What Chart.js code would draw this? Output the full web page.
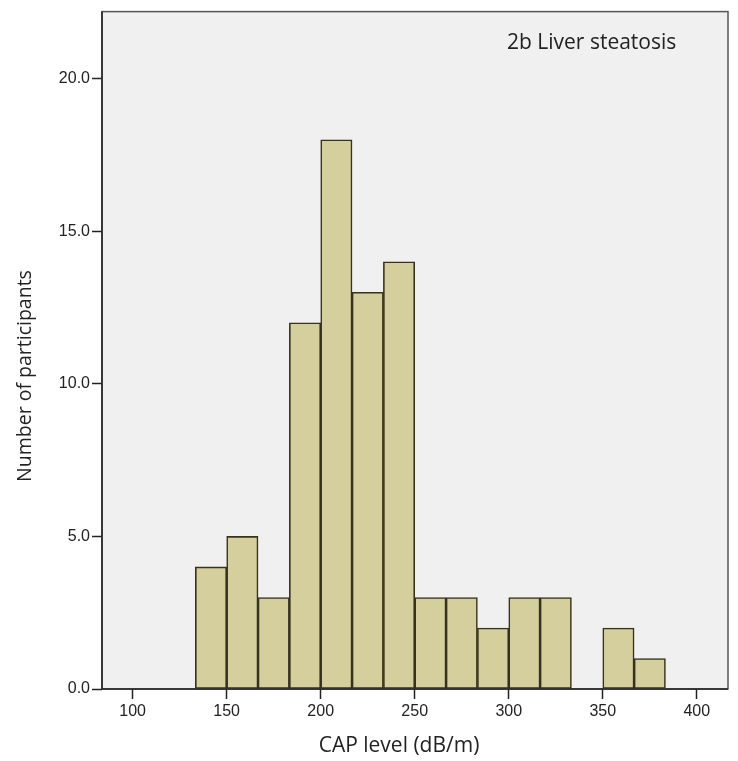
<!DOCTYPE html>
<html>
<head>
<meta charset="utf-8">
<script src="https://cdn.jsdelivr.net/npm/chart.js@4"></script>
<style>
  html, body { margin: 0; padding: 0; background: #ffffff; }
  #wrap { width: 738px; height: 761px; }
</style>
</head>
<body>
<div id="wrap"><canvas id="hist" width="738" height="761"></canvas></div>
<script>
// histogram bins (left edge of each bin, dB/m) and counts
const binLefts = [133.33, 150, 166.67, 183.33, 200, 216.67, 233.33, 250, 266.67, 283.33, 300, 316.67, 333.33, 350, 366.67];
const binWidth = 16.67;
const counts = [4, 5, 3, 12, 18, 13, 14, 3, 3, 2, 3, 3, 0, 2, 1];
const xTicks = [100, 150, 200, 250, 300, 350, 400];
const yTicks = [0, 5, 10, 15, 20];

const points = [];
binLefts.forEach((left, i) => {
    if (counts[i] > 0) points.push({ x: left + binWidth / 2, y: counts[i] });
});

// grey plot background + frame, axis titles and the panel label
const frame = {
    id: 'frame',
    beforeDatasetsDraw(chart) {
        const { ctx, chartArea: a } = chart;
        ctx.save();
        ctx.fillStyle = '#f0f0f0';
        ctx.fillRect(a.left, a.top, a.right - a.left, a.bottom - a.top);
        ctx.restore();
    },
    afterDatasetsDraw(chart) {
        const { ctx, chartArea: a } = chart;
        ctx.save();
        ctx.strokeStyle = '#555555';
        ctx.lineWidth = 1.5;
        ctx.strokeRect(a.left, a.top, a.right - a.left, a.bottom - a.top);
        ctx.strokeStyle = '#222222';
        ctx.beginPath();
        ctx.moveTo(a.left, a.top);
        ctx.lineTo(a.left, a.bottom);
        ctx.lineTo(a.right, a.bottom);
        ctx.stroke();
        ctx.fillStyle = '#222222';
        ctx.font = '21px "Open Sans"';
        ctx.textBaseline = 'middle';
        ctx.fillText('2b Liver steatosis', 507, 43);
        ctx.textAlign = 'center';
        ctx.fillText('CAP level (dB/m)', 399, 746);
        ctx.translate(25, 376);
        ctx.rotate(-Math.PI / 2);
        ctx.font = '19.5px "Open Sans"';
        ctx.fillText('Number of participants', 0, 0);
        ctx.restore();
    }
};

new Chart(document.getElementById('hist'), {
    type: 'bar',
    data: {
        datasets: [{
            data: points,
            backgroundColor: '#d4cf9c',
            borderColor: '#36321c',
            borderWidth: 1.6,
            borderSkipped: false,
            barPercentage: 1,
            categoryPercentage: 1
        }]
    },
    options: {
        responsive: false,
        animation: false,
        layout: { padding: { top: 9, right: 10, left: 0, bottom: 0 } },
        plugins: { legend: { display: false }, tooltip: { enabled: false } },
        scales: {
            x: {
                type: 'linear',
                offset: false,
                min: 83.7,
                max: 416.6,
                afterFit: s => { s.height = 72; },
                afterBuildTicks: s => { s.ticks = xTicks.map(v => ({ value: v })); },
                ticks: { color: '#222', font: { family: 'Liberation Sans', size: 16 }, padding: 3, includeBounds: false, maxRotation: 0 },
                grid: { offset: false, drawOnChartArea: false, tickLength: 10, color: '#222', tickWidth: 1.5 },
                border: { display: false }
            },
            y: {
                min: 0,
                max: 22.2,
                afterFit: s => { s.width = 102; },
                afterBuildTicks: s => { s.ticks = yTicks.map(v => ({ value: v })); },
                ticks: { color: '#222', font: { family: 'Liberation Sans', size: 16 }, padding: 2, callback: v => v.toFixed(1) },
                grid: { drawOnChartArea: false, tickLength: 10, color: '#222', tickWidth: 1.5 },
                border: { display: false }
            }
        }
    },
    plugins: [frame]
});
</script>
</body>
</html>
